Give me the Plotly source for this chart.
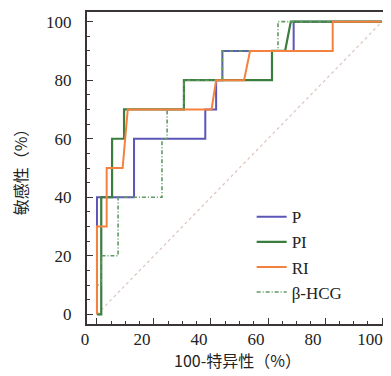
import plotly.graph_objects as go

# ROC curve points (100-specificity %, sensitivity %)
p_x = [0, 0, 13, 13, 38, 38, 41.8, 41.8, 44, 44, 69, 69, 100]
p_y = [0, 40, 40, 60, 60, 70, 70, 80, 80, 90, 90, 100, 100]

pi_x = [0, 1.5, 1.5, 5.3, 5.3, 9.5, 9.5, 30.5, 30.5, 61.4, 61.4, 66, 68, 100]
pi_y = [0, 0, 40, 40, 60, 60, 70, 70, 80, 80, 90, 90, 100, 100]

ri_x = [0, 0, 3.4, 3.4, 9, 10.8, 40.2, 41.8, 51.6, 53.7, 82.7, 82.7, 100]
ri_y = [0, 30, 30, 50, 50, 70, 70, 80, 80, 90, 90, 100, 100]

hcg_x = [0, 0, 1.5, 1.5, 7.4, 7.4, 22.8, 22.8, 24.6, 24.6, 30.5, 30.5, 44, 44, 63.5, 63.5, 100]
hcg_y = [0, 10, 10, 20, 20, 40, 40, 60, 60, 70, 70, 80, 80, 90, 90, 100, 100]

ref_x = [0, 100]
ref_y = [0, 100]

tick_vals = [0, 20, 40, 60, 80, 100]

fig = go.Figure()
fig.add_trace(go.Scatter(x=ref_x, y=ref_y, mode="lines", showlegend=False,
                         line=dict(color="#dcc4be", width=1.2, dash="dot"), hoverinfo="skip"))
fig.add_trace(go.Scatter(x=p_x, y=p_y, mode="lines", name="P", legendrank=1,
                         line=dict(color="#5b55b8", width=2)))
fig.add_trace(go.Scatter(x=pi_x, y=pi_y, mode="lines", name="PI", legendrank=2,
                         line=dict(color="#3b7d3d", width=2.2)))
fig.add_trace(go.Scatter(x=hcg_x, y=hcg_y, mode="lines", name="β-HCG", legendrank=4,
                         line=dict(color="#5f9a60", width=1.6, dash="4px,2px,1px,2px")))
fig.add_trace(go.Scatter(x=ri_x, y=ri_y, mode="lines", name="RI", legendrank=3,
                         line=dict(color="#f5813f", width=2)))

axis_common = dict(
    automargin=False,
    showgrid=False, zeroline=False, showline=True, linecolor="#3a3434", linewidth=2.2,
    mirror=True, ticks="inside", ticklen=6, tickwidth=1.3, tickcolor="#3a3434",
    tickvals=tick_vals, ticktext=[str(v) for v in tick_vals],
    tickfont=dict(family="Liberation Serif", size=17, color="#222"),
    minor=dict(ticks="inside", ticklen=3, tickwidth=1.2, tickcolor="#3a3434", dtick=5),
)

fig.update_xaxes(range=[-3.5, 102.1], ticklabelshift=-12, ticklabelstandoff=-2,
                 title=dict(text="100-特异性（%）", standoff=6,
                            font=dict(family="Noto Sans CJK SC", size=16, color="#222")),
                 **axis_common)
fig.update_yaxes(range=[-3.3, 103.3], ticklabelstandoff=10,
                 title=dict(text="敏感性（%）", standoff=14,
                            font=dict(family="Noto Sans CJK SC", size=16, color="#222")),
                 **axis_common)

# page body has an 8px default margin, so the figure is shifted by 8px
fig.update_layout(
    width=383, height=368,
    margin=dict(l=79, r=3, t=4, b=52, autoexpand=False),
    plot_bgcolor="white", paper_bgcolor="white",
    showlegend=True,
    legend=dict(x=0.547, y=0.40, xanchor="left", yanchor="top",
                bgcolor="rgba(0,0,0,0)", tracegroupgap=0,
                font=dict(family="Liberation Serif", size=17, color="#222")),
)

fig.write_html("out.html")
